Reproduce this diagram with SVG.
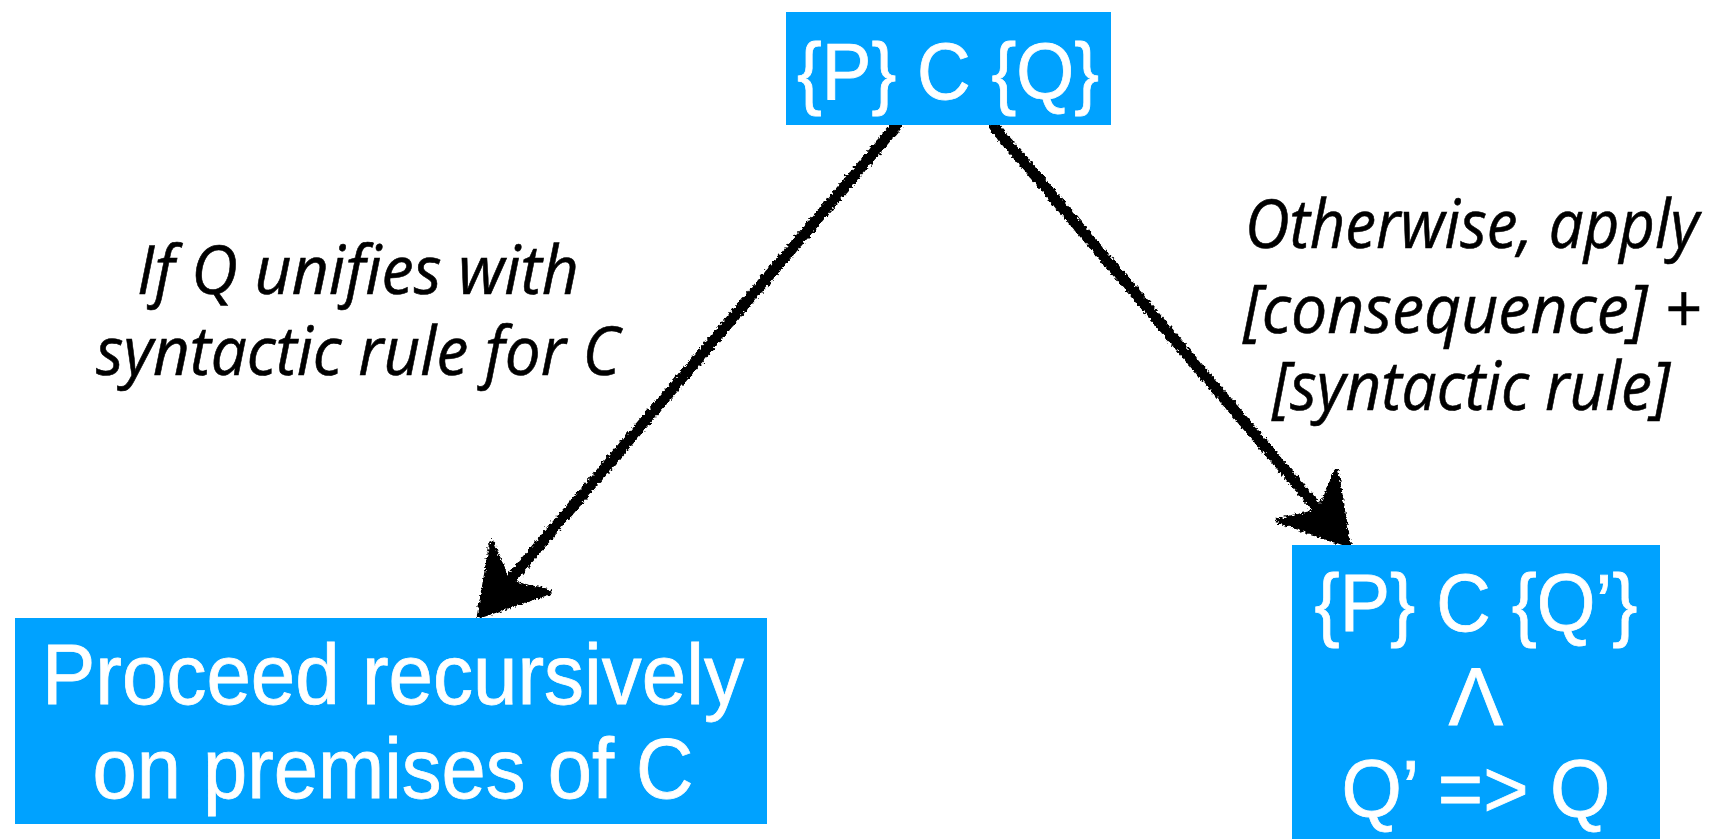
<svg xmlns="http://www.w3.org/2000/svg" width="1719" height="839" viewBox="0 0 1719 839">
<defs>
<style>
.box{fill:#00A2FF;}
.bt{font-family:"Liberation Sans",Arial,Helvetica,sans-serif;fill:#FFFFFF;stroke:#FFFFFF;stroke-width:0.8;text-anchor:middle;}
.lbl{font-family:"Open Sans","Noto Sans",sans-serif;font-style:italic;fill:#000000;stroke:#000000;stroke-width:0.6;font-size:68px;}
.end{text-anchor:end;}
.shaft{stroke:#000;stroke-width:11;fill:none;stroke-linecap:round;}
</style>
<filter id="rough" x="-10%" y="-10%" width="120%" height="120%">
<feTurbulence type="fractalNoise" baseFrequency="0.35" numOctaves="2" seed="3" result="n"/>
<feDisplacementMap in="SourceGraphic" in2="n" scale="6" xChannelSelector="R" yChannelSelector="G"/>
</filter>
<marker id="head" markerUnits="userSpaceOnUse" orient="auto" refX="0" refY="0" markerWidth="120" markerHeight="120" viewBox="-70 -50 120 100" overflow="visible">
<path d="M38,0 L-26,-38 L-6,0 L-26,38 Z" fill="#000" stroke="#000" stroke-width="5" stroke-linejoin="round"/>
</marker>
</defs>
<rect width="1719" height="839" fill="#FFFFFF"/>
<g id="connectors" filter="url(#rough)">
<path class="shaft" d="M897,125 L504,587" marker-end="url(#head)"/>
<path class="shaft" d="M995,128 L1324,516" marker-end="url(#head)"/>
</g>
<g id="node-top">
<rect class="box" x="786" y="12" width="325" height="113"/>
<text class="bt" x="948" y="99" font-size="79" textLength="302" lengthAdjust="spacingAndGlyphs">{P} C {Q}</text>
</g>
<g id="node-left">
<rect class="box" x="15" y="618" width="752" height="206"/>
<text class="bt" x="393" y="704" font-size="85" textLength="702" lengthAdjust="spacingAndGlyphs">Proceed recursively</text>
<text class="bt" x="393" y="798" font-size="85" textLength="601" lengthAdjust="spacingAndGlyphs">on premises of C</text>
</g>
<g id="node-right">
<rect class="box" x="1292" y="545" width="368" height="294"/>
<text class="bt" x="1476" y="631" font-size="81" textLength="323" lengthAdjust="spacingAndGlyphs">{P} C {Q’}</text>
<text class="bt" x="1476" y="725" font-size="82">Λ</text>
<text class="bt" x="1476" y="817" font-size="82" textLength="269" lengthAdjust="spacingAndGlyphs">Q’ =&gt; Q</text>
</g>
<g id="label-left">
<text class="lbl" x="137" y="294" textLength="442" lengthAdjust="spacingAndGlyphs">If Q unifies with</text>
<text class="lbl" x="96" y="375" textLength="524" lengthAdjust="spacingAndGlyphs">syntactic rule for C</text>
</g>
<g id="label-right">
<text class="lbl end" x="1699" y="248" textLength="454" lengthAdjust="spacingAndGlyphs">Otherwise, apply</text>
<text class="lbl end" x="1701" y="333" textLength="458" lengthAdjust="spacingAndGlyphs">[consequence] +</text>
<text class="lbl end" x="1670" y="410" textLength="398" lengthAdjust="spacingAndGlyphs">[syntactic rule]</text>
</g>
</svg>
